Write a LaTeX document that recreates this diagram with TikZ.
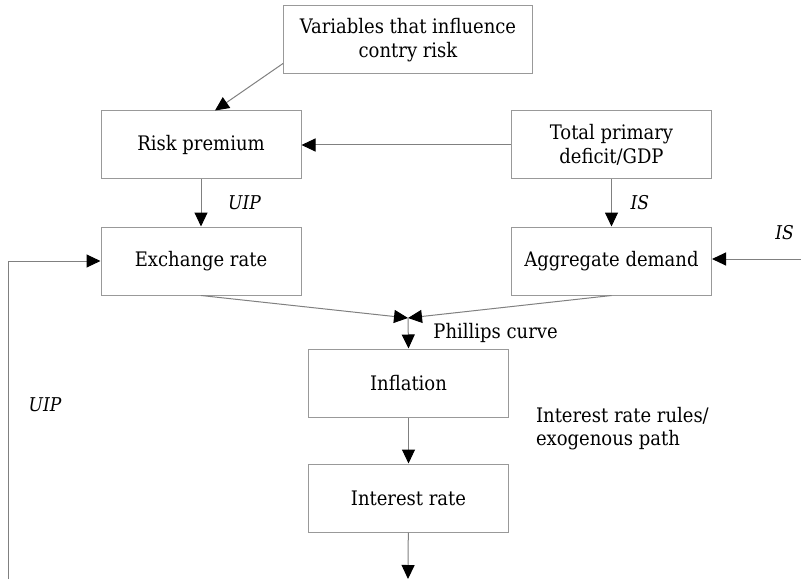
\documentclass[tikz,border=0pt]{standalone}
\usepackage{fontspec}
\setmainfont{DejaVu Serif Condensed}
\usetikzlibrary{arrows.meta}

\tikzset{
    box/.style={draw=black!40, line width=0.5pt, minimum width=100pt, minimum height=34pt,
        align=center, inner sep=2pt, font=\fontsize{10}{12}\selectfont},
    lbl/.style={font=\fontsize{9.5}{11}\selectfont\itshape},
    txt/.style={font=\fontsize{10}{11.5}\selectfont},
    line/.style={draw=black!50, line width=0.5pt}
}

\begin{document}
\begin{tikzpicture}[x=0.5pt, y=0.5pt, >={Triangle[length=7pt,width=6.5pt,color=black]}]
\useasboundingbox (0,0) rectangle (801,579);

\node[box, minimum width=124.5pt] (var) at (408,539) {Variables that influence\\contry risk};
\node[box] (risk) at (201,434) {Risk premium};
\node[box] (deficit) at (611.5,434) {Total primary\\deficit/GDP};
\node[box] (exch) at (201,318) {Exchange rate};
\node[box] (agg) at (611.5,318) {Aggregate demand};
\node[box] (infl) at (408.5,196) {Inflation};
\node[box] (irate) at (408.5,81) {Interest rate};

\coordinate (pc) at (408,261);
\coordinate (bottom) at (408,0);
\coordinate (rightend) at (801,320);
\coordinate (leftend) at (8,0);

\draw[line, ->] ([yshift=5.5pt]var.south west) -- ([xshift=7pt]risk.north);
\draw[line, ->] (deficit.west) -- (risk.east);
\draw[line, ->] (risk) -- node[right=10pt, lbl]{UIP} (exch);
\draw[line, ->] (deficit) -- node[right=6pt, lbl]{IS} (agg);
\draw[line, ->] (rightend) -- (agg.east |- rightend);
\draw[line, ->] (leftend) |- (exch.west);

\draw[line, ->] (exch.south) -- (pc);
\draw[line, ->] (agg.south) -- (pc);
\draw[line, ->] (pc) -- node[right=9pt, txt]{Phillips curve} (infl.north);
\draw[line, ->] (infl) -- (irate);
\draw[line, ->] (irate) -- (bottom);

\node[lbl, anchor=east] (islbl) at (801,346) {IS};
\node[lbl] (uiplbl) at (45,174) {UIP};
\node[txt, anchor=west, align=left] (rules) at (529,150) {Interest rate rules/\\exogenous path};

\end{tikzpicture}
\end{document}
